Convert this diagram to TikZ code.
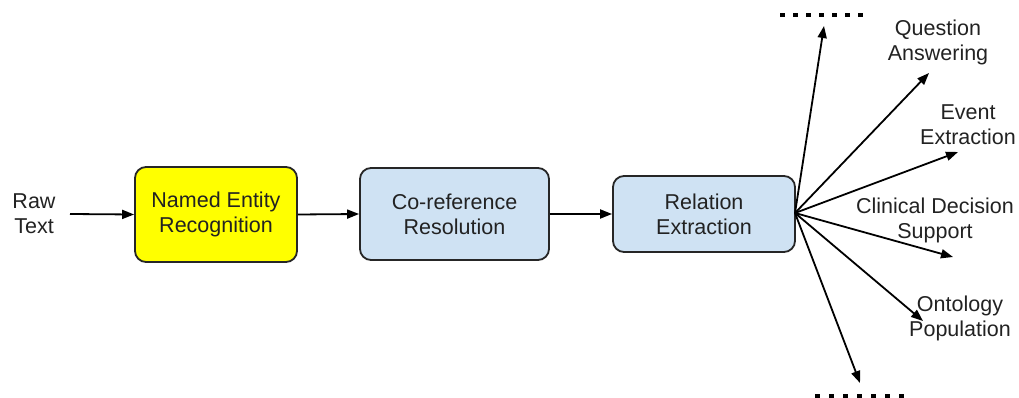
\documentclass[tikz,border=0pt]{standalone}
\usepackage{fontspec}
\setmainfont{Liberation Sans}
\usetikzlibrary{arrows.meta}
\definecolor{nerfill}{HTML}{FFFF00}
\definecolor{boxblue}{HTML}{CFE2F3}
\definecolor{txt}{HTML}{222222}
\begin{document}
\begin{tikzpicture}[x=1pt,y=-1pt,
  every node/.style={font=\fontsize{21.5}{25}\selectfont, text=txt, align=center, inner sep=0pt},
  stagebox/.style={draw=black!85, line width=1.8pt, rounded corners=11pt},
  conn/.style={line width=1.8pt, -{Triangle[length=12pt,width=9pt]}},
  dots/.style={line width=4.5pt, dash pattern=on 4.5pt off 8.5pt}]
\useasboundingbox (0,0) rectangle (1019,398);
\node (raw) at (34,214) {Raw\\Text};
\coordinate (rawend) at (70,214);
\node[stagebox, fill=nerfill, minimum width=162pt, minimum height=95pt] (ner) at (216,214.5) {Named Entity\\Recognition};
\node[stagebox, fill=boxblue, minimum width=189pt, minimum height=92pt] (coref) at (454.5,214) {Co-reference\\Resolution};
\node[stagebox, fill=boxblue, minimum width=182pt, minimum height=76pt] (rel) at (704,214) {Relation\\Extraction};
\draw[conn] (rawend) -- (ner.west);
\draw[conn] (ner.east) -- (coref.west);
\draw[conn] (coref.east) -- (rel.west);
\coordinate (fan) at (795,213);
\coordinate (up) at (824,26);
\coordinate (qa) at (929,73);
\coordinate (ev) at (958,152);
\coordinate (cd) at (953,257);
\coordinate (on) at (923,321);
\coordinate (down) at (860,383);
\draw[conn] (fan) -- (up);
\draw[conn] (fan) -- (qa);
\draw[conn] (fan) -- (ev);
\draw[conn] (fan) -- (cd);
\draw[conn] (fan) -- (on);
\draw[conn] (fan) -- (down);
\node (qal) at (938,42) {Question\\Answering};
\node (evl) at (968,125) {Event\\Extraction};
\node (cdl) at (935,220) {Clinical Decision\\Support};
\node (onl) at (960,318) {Ontology\\Population};
\coordinate (t1) at (780,15);
\coordinate (t2) at (864,15);
\coordinate (b1) at (815,396);
\coordinate (b2) at (912,396);
\draw[dots] (t1) -- (t2);
\draw[dots, line width=5pt, dash pattern=on 5pt off 9pt] (b1) -- (b2);
\end{tikzpicture}
\end{document}
